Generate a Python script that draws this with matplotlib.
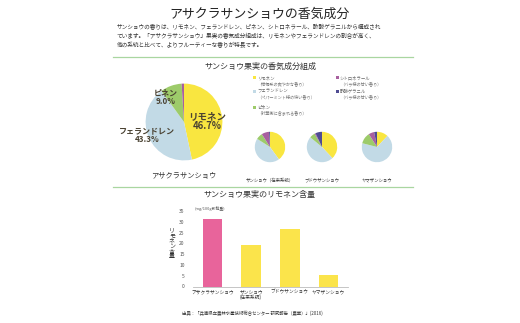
import matplotlib
matplotlib.use("Agg")
import matplotlib.pyplot as plt

plt.rcParams['font.family'] = ['Noto Sans CJK JP', 'DejaVu Sans']

# ---- data ----
components = ['リモネン', 'フェランドレン', 'ピネン', 'シトロネラール', '酢酸ゲラニル']
notes = ['（柑橘系の爽やかな香り）', '（ペパーミント様の快い香り）', '（針葉樹に含まれる香り）',
         '（バラ様の甘い香り）', '（バラ様の甘い香り）']
comp_colors = ['#f9e640', '#c2dae6', '#9dcb6a', '#a8609f', '#4f4b92']

asakura_share = [46.7, 43.3, 9.0, 1.0, 0.0]
pie_labels_big = ['リモネン\n46.7%', 'フェランドレン\n43.3%', 'ピネン\n9.0%']

small_names = ['サンショウ（在来系統）', 'ブドウサンショウ', 'ヤマザンショウ']
small_shares = [
    [40, 44, 7, 8, 1],
    [38, 48, 6, 1, 7],
    [12, 67, 12, 6, 3],
]

bar_labels = ['アサクラサンショウ', 'サンショウ\n(在来系統)', 'ブドウサンショウ', 'ヤマザンショウ']
limonene = [31.3, 19.2, 26.7, 5.3]
bar_colors = ['#e8649b', '#fbe44b', '#fbe44b', '#fbe44b']
yticks = [0, 5, 10, 15, 20, 25, 30, 35]

# ---- figure in pixel coordinates ----
W, H = 520, 323
fig = plt.figure(figsize=(W / 100, H / 100), dpi=100)
fig.patch.set_facecolor('white')


def fx(x):
    return x / W


def fy(y):
    return 1 - y / H


def px_axes(x0, y0, x1, y1):
    return fig.add_axes([fx(x0), fy(y1), (x1 - x0) / W, (y1 - y0) / H])


def text(x, y, s, **kw):
    kw.setdefault('ha', 'left')
    kw.setdefault('va', 'center')
    fig.text(fx(x), fy(y), s, **kw)


TXT = '#333333'

# header
text(260, 14, 'アサクラサンショウの香気成分', ha='center', fontsize=9.3, color='#222222')
para = ['サンショウの香りは、リモネン、フェランドレン、ピネン、シトロネラール、酢酸ゲラニルから構成され',
        'ています。「アサクラサンショウ」果実の香気成分組成は、リモネンやフェランドレンの割合が高く、',
        '他の系統と比べて、よりフルーティーな香りが特長です。']
for i, line in enumerate(para):
    text(117, 27 + i * 9, line, fontsize=4.1, color=TXT)

green = '#a9d6a0'
fig.add_artist(plt.Line2D([fx(113), fx(413)], [fy(57), fy(57)], color=green, lw=0.9))
fig.add_artist(plt.Line2D([fx(113), fx(413)], [fy(187), fy(187)], color=green, lw=0.9))

text(260, 66, 'サンショウ果実の香気成分組成', ha='center', fontsize=5.8, color=TXT)

# big pie
axp = px_axes(136, 74, 232, 170)
axp.pie(asakura_share, colors=comp_colors, startangle=90, counterclock=False,
        wedgeprops=dict(linewidth=0))
axp.set_aspect('equal')
text(184, 176, 'アサクラサンショウ', ha='center', fontsize=5.2, color=TXT)
lab_col = '#4a4232'
text(207, 121, pie_labels_big[0], ha='center', fontsize=6.8, color=lab_col,
     fontweight='bold', linespacing=1.0)
text(147, 135, pie_labels_big[1], ha='center', fontsize=5.8, color=lab_col,
     fontweight='bold', linespacing=1.0)
text(166, 97, pie_labels_big[2], ha='center', fontsize=5.8, color=lab_col,
     fontweight='bold', linespacing=1.0)

# legend
leg_pos = [(254, 78), (254, 91), (254, 107), (337, 78), (337, 91)]
for (lx, ly), name, note, col in zip(leg_pos, components, notes, comp_colors):
    fig.add_artist(plt.Rectangle((fx(lx - 1.5), fy(ly + 1.5)), 3 / W, 3 / H,
                                 color=col, lw=0))
    text(lx + 3, ly, name, fontsize=3.2, color='#666666')
    text(lx + 3, ly + 5.5, note, fontsize=3.0, color='#777777')

# small pies
for cx, name, share in zip([270, 322, 377], small_names, small_shares):
    ax = px_axes(cx - 19, 128, cx + 19, 166)
    ax.pie(share, colors=comp_colors, startangle=90, counterclock=False,
           wedgeprops=dict(linewidth=0))
    ax.set_aspect('equal')
    text(cx, 180, name, ha='center', fontsize=3.2, color=TXT)

# bar chart
text(259, 195, 'サンショウ果実のリモネン含量', ha='center', fontsize=5.8, color=TXT)
axb = px_axes(193, 211, 348, 286.5)
xs = range(len(limonene))
axb.bar(xs, limonene, width=0.5, color=bar_colors, linewidth=0)
axb.set_xlim(-0.5, len(limonene) - 0.5)
axb.set_ylim(0, 35)
axb.set_yticks(yticks)
axb.set_yticklabels([str(t) for t in yticks], fontsize=3.6, color='#555555')
axb.set_xticks(list(xs))
axb.set_xticklabels(bar_labels, fontsize=3.4, color=TXT, linespacing=1.1)
axb.tick_params(length=0, pad=2)
axb.tick_params(axis='y', pad=6)
for s in ['top', 'right', 'left']:
    axb.spines[s].set_visible(False)
axb.spines['bottom'].set_color('#bbbbbb')
axb.spines['bottom'].set_linewidth(0.6)
axb.set_facecolor('none')

text(195, 209, '(mg/100g新鮮重)', fontsize=2.8, color='#555555')
text(172, 244, '\n'.join('リモネン含量'), ha='center', fontsize=4.3, color=TXT,
     linespacing=0.95)

text(182, 313, '出典：「兵庫県立農林水産技術総合センター 研究報告（農業）」(2016)',
     fontsize=3.2, color=TXT)

fig.savefig('out.png', dpi=100, facecolor='white')
